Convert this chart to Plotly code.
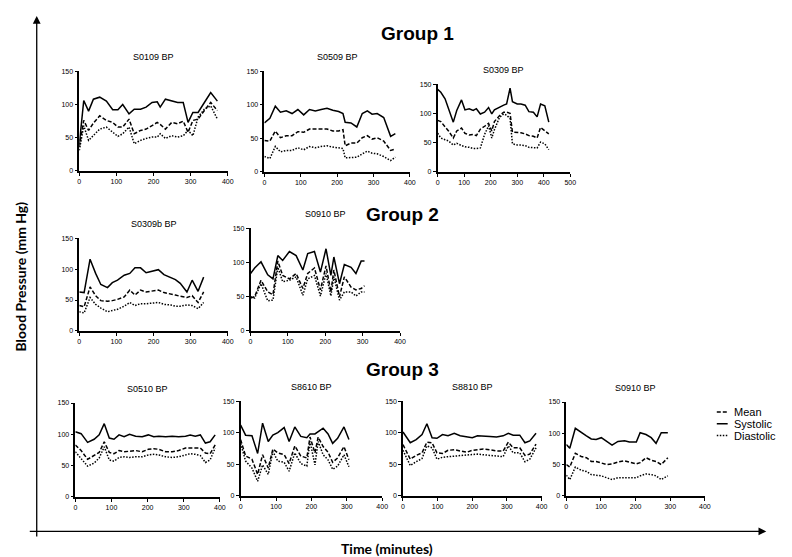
import plotly.graph_objects as go

W, H = 792, 557

# ---------------- data (minutes, mm Hg) ----------------
# Group 1
s0109_t = [0, 12, 25, 38, 55, 73, 90, 104, 117, 134, 148, 165, 180, 196, 210, 218, 232, 249, 265, 280, 293, 306, 320, 337, 354, 372]
s0109_sys = [40, 106, 90, 108, 111, 105, 92, 92, 100, 86, 93, 93, 96, 103, 104, 96, 108, 106, 103, 103, 73, 88, 88, 103, 118, 105]
s0109_mean = [36, 76, 61, 72, 83, 76, 73, 66, 66, 78, 56, 61, 63, 68, 73, 70, 63, 73, 71, 75, 58, 76, 78, 91, 103, 91]
s0109_dia = [31, 68, 46, 53, 63, 66, 58, 52, 56, 66, 41, 46, 49, 51, 51, 56, 49, 53, 51, 53, 61, 53, 81, 93, 98, 78]

s0509_t = [0, 15, 30, 44, 60, 76, 92, 108, 124, 140, 156, 172, 188, 204, 216, 222, 238, 254, 269, 283, 296, 310, 328, 347, 360]
s0509_sys = [73, 80, 98, 89, 91, 87, 93, 85, 93, 91, 93, 95, 92, 90, 87, 74, 73, 67, 87, 91, 86, 87, 81, 53, 57]
s0509_mean = [47, 46, 61, 51, 54, 54, 60, 59, 64, 64, 64, 64, 61, 61, 63, 39, 43, 43, 51, 54, 49, 51, 46, 32, 34]
s0509_dia = [23, 20, 38, 30, 32, 32, 36, 33, 38, 36, 38, 39, 37, 36, 35, 21, 21, 22, 27, 31, 28, 27, 23, 17, 22]

s0309_t = [0, 12, 28, 41, 59, 72, 90, 103, 119, 134, 146, 161, 177, 192, 204, 214, 233, 249, 260, 273, 282, 300, 314, 330, 344, 361, 375, 388, 404, 419]
s0309_sys = [141, 136, 125, 108, 85, 105, 123, 106, 108, 105, 108, 99, 102, 110, 99, 106, 111, 114, 116, 143, 120, 116, 116, 114, 103, 102, 94, 116, 113, 85]
s0309_mean = [88, 86, 77, 70, 58, 70, 75, 66, 63, 64, 62, 73, 78, 83, 70, 86, 96, 102, 102, 100, 68, 68, 67, 65, 62, 61, 58, 76, 70, 65]
s0309_dia = [66, 58, 55, 53, 46, 49, 45, 43, 42, 40, 40, 41, 64, 79, 58, 72, 93, 99, 97, 91, 48, 46, 46, 45, 42, 41, 41, 51, 48, 38]

# Group 2
s0309b_t = [0, 13, 29, 44, 58, 76, 89, 103, 121, 136, 150, 165, 180, 196, 213, 228, 246, 259, 272, 290, 304, 320, 335]
s0309b_sys = [63, 62, 116, 93, 75, 70, 78, 82, 90, 93, 102, 102, 94, 97, 99, 91, 86, 83, 77, 63, 82, 64, 87]
s0309b_mean = [41, 39, 71, 57, 49, 48, 49, 51, 55, 66, 58, 66, 63, 65, 66, 62, 59, 58, 56, 54, 57, 46, 63]
s0309b_dia = [31, 29, 54, 43, 37, 31, 33, 35, 40, 46, 41, 44, 44, 45, 46, 43, 42, 40, 40, 42, 41, 36, 46]

s0910a_t = [0, 11, 28, 46, 60, 73, 86, 104, 122, 140, 153, 171, 187, 202, 215, 223, 238, 251, 269, 282, 296, 305]
s0910a_sys = [84, 92, 101, 82, 76, 110, 103, 116, 110, 89, 113, 116, 86, 120, 81, 108, 69, 97, 93, 84, 102, 102]
s0910a_mean = [48, 50, 74, 57, 53, 102, 81, 76, 84, 62, 84, 92, 60, 95, 57, 89, 50, 79, 64, 60, 62, 66]
s0910a_dia = [50, 48, 69, 44, 45, 93, 72, 74, 79, 52, 76, 81, 51, 84, 51, 79, 45, 57, 57, 51, 57, 57]

# Group 3
s0510_t = [0, 16, 34, 52, 66, 80, 94, 107, 121, 135, 150, 167, 185, 202, 217, 231, 250, 268, 286, 305, 318, 332, 346, 360, 373, 387]
s0510_sys = [104, 101, 87, 92, 99, 117, 94, 92, 99, 96, 100, 97, 96, 99, 96, 97, 96, 97, 96, 97, 99, 97, 99, 86, 88, 99]
s0510_mean = [83, 74, 60, 66, 71, 88, 71, 69, 74, 72, 73, 74, 72, 76, 77, 76, 72, 72, 74, 78, 78, 78, 78, 70, 69, 83]
s0510_dia = [72, 62, 49, 54, 62, 80, 59, 57, 63, 64, 63, 64, 64, 67, 68, 67, 64, 63, 64, 67, 69, 68, 66, 55, 59, 78]

s8610_t = [0, 14, 32, 48, 62, 78, 91, 105, 123, 137, 153, 170, 187, 196, 210, 219, 233, 247, 260, 274, 292, 306]
s8610_sys = [112, 96, 95, 67, 115, 86, 96, 100, 108, 86, 109, 94, 92, 98, 98, 101, 107, 98, 83, 91, 109, 89]
s8610_mean = [89, 63, 58, 34, 65, 44, 74, 68, 65, 51, 79, 63, 60, 93, 68, 93, 78, 69, 53, 60, 78, 57]
s8610_dia = [83, 55, 44, 23, 49, 34, 70, 55, 53, 39, 68, 51, 47, 86, 49, 86, 65, 57, 42, 47, 65, 46]

s8810_t = [0, 21, 38, 55, 69, 84, 98, 114, 130, 148, 165, 184, 200, 215, 232, 251, 270, 289, 304, 318, 337, 352, 366, 384]
s8810_sys = [101, 84, 89, 97, 114, 92, 91, 97, 95, 99, 95, 94, 92, 95, 94, 94, 93, 95, 99, 96, 96, 84, 87, 99]
s8810_mean = [81, 58, 64, 68, 85, 84, 68, 67, 72, 73, 71, 69, 72, 73, 74, 73, 71, 71, 85, 76, 76, 64, 66, 82]
s8810_dia = [72, 48, 54, 59, 79, 76, 58, 61, 62, 63, 63, 64, 65, 66, 65, 64, 62, 62, 79, 68, 68, 54, 58, 76]

s0910b_t = [0, 10, 26, 43, 58, 72, 86, 101, 116, 132, 149, 168, 182, 202, 213, 230, 245, 259, 274, 293]
s0910b_sys = [82, 76, 108, 101, 96, 91, 90, 93, 87, 81, 87, 88, 86, 86, 101, 98, 93, 84, 101, 101]
s0910b_mean = [50, 46, 68, 63, 61, 55, 55, 53, 50, 51, 54, 56, 54, 51, 53, 61, 57, 55, 50, 61]
s0910b_dia = [33, 26, 46, 41, 39, 34, 33, 32, 29, 26, 29, 29, 29, 29, 32, 35, 34, 32, 26, 32]

panel_titles = ["S0109 BP", "S0509 BP", "S0309 BP", "S0309b BP", "S0910 BP",
                "S0510 BP", "S8610 BP", "S8810 BP", "S0910 BP"]
group_titles = ["Group 1", "Group 2", "Group 3"]
series_names = ["Mean", "Systolic", "Diastolic"]

data = [
    (s0109_t, s0109_mean, s0109_sys, s0109_dia),
    (s0509_t, s0509_mean, s0509_sys, s0509_dia),
    (s0309_t, s0309_mean, s0309_sys, s0309_dia),
    (s0309b_t, s0309b_mean, s0309b_sys, s0309b_dia),
    (s0910a_t, s0910a_mean, s0910a_sys, s0910a_dia),
    (s0510_t, s0510_mean, s0510_sys, s0510_dia),
    (s8610_t, s8610_mean, s8610_sys, s8610_dia),
    (s8810_t, s8810_mean, s8810_sys, s8810_dia),
    (s0910b_t, s0910b_mean, s0910b_sys, s0910b_dia),
]

# ---------------- layout (pixel boxes: x0, x1, y_top, y_bottom) ----------------
boxes = [
    (70, 220, 60, 161), (257, 404, 60, 162), (432, 566, 73, 162),
    (70, 220, 229, 323), (243, 394, 219, 323),
    (66, 212, 396, 491), (233, 376, 394, 490), (397, 537, 394, 490), (562, 702, 395, 490),
]
xmaxes = [400, 400, 500, 400, 400, 400, 400, 400, 400]

dash_styles = {"Mean": "4px,2px", "Systolic": "solid", "Diastolic": "1.5px,1.5px"}
TICKFONT = dict(family="Liberation Sans, Arial", size=7, color="black")

fig = go.Figure()
annotations = []

for i, ((t, mean, sys_, dia), (x0, x1, yt, yb), xmax, title) in enumerate(
        zip(data, boxes, xmaxes, panel_titles), start=1):
    xa = "x" if i == 1 else f"x{i}"
    ya = "y" if i == 1 else f"y{i}"
    for name, vals in zip(series_names, (mean, sys_, dia)):
        fig.add_trace(go.Scatter(
            x=t, y=vals, mode="lines", name=name, showlegend=False,
            line=dict(color="black", width=1.5, dash=dash_styles[name]),
            xaxis=xa, yaxis=ya, hoverinfo="skip"))
    sx = "xaxis" if i == 1 else f"xaxis{i}"
    sy = "yaxis" if i == 1 else f"yaxis{i}"
    fig.layout[sx] = dict(
        domain=[x0 / W, x1 / W], range=[0, xmax], anchor=ya,
        tickvals=list(range(0, xmax + 1, 100)), showline=True, linecolor="black",
        linewidth=1.5, ticks="outside", ticklen=3, tickwidth=1, tickcolor="black",
        tickfont=TICKFONT, showgrid=False, zeroline=False)
    fig.layout[sy] = dict(
        domain=[1 - yb / H, 1 - yt / H], range=[0, 150], anchor=xa,
        tickvals=[0, 50, 100, 150], showline=True, linecolor="black",
        linewidth=1.5, ticks="outside", ticklen=3, tickwidth=1, tickcolor="black",
        tickfont=TICKFONT, showgrid=False, zeroline=False)
    annotations.append(dict(
        text=title, x=(x0 + x1) / 2 / W, y=1 - (yt - 14) / H, xref="paper", yref="paper",
        showarrow=False, font=dict(family="Liberation Sans, Arial", size=9, color="black"),
        xanchor="center", yanchor="middle"))

# group titles
for txt, (gx, gy) in zip(group_titles, [(412, 22), (397, 205), (397, 362)]):
    annotations.append(dict(
        text=f"<b>{txt}</b>", x=gx / W, y=1 - gy / H, xref="paper", yref="paper",
        showarrow=False, font=dict(family="Liberation Sans, Arial", size=19, color="black"),
        xanchor="center", yanchor="middle"))

# big axis arrows
annotations.append(dict(x=27 / W, y=1 - 4 / H, xref="paper", yref="paper", ax=0, ay=522,
                        axref="pixel", ayref="pixel", text="", showarrow=True,
                        arrowhead=2, arrowsize=1.2, arrowwidth=1.3, arrowcolor="black"))
annotations.append(dict(x=764 / W, y=1 - 526 / H, xref="paper", yref="paper", ax=-738, ay=0,
                        text="", showarrow=True,
                        arrowhead=2, arrowsize=1.2, arrowwidth=1.3, arrowcolor="black"))
annotations.append(dict(text="<b>Blood Pressure (mm Hg)</b>", x=11 / W, y=1 - 268 / H,
                        xref="paper", yref="paper", showarrow=False, textangle=-90,
                        font=dict(family="Lato", size=14, color="black"),
                        xanchor="center", yanchor="middle"))
annotations.append(dict(text="<b>Time (minutes)</b>", x=381 / W, y=1 - 543 / H,
                        xref="paper", yref="paper", showarrow=False,
                        font=dict(family="Lato", size=14, color="black"),
                        xanchor="center", yanchor="middle"))

# manual legend
shapes = []
for k, name in enumerate(series_names):
    ly = 405 + k * 12
    shapes.append(dict(type="line", xref="paper", yref="paper",
                       x0=714 / W, x1=725 / W, y0=1 - ly / H, y1=1 - ly / H,
                       line=dict(color="black", width=1.5, dash=dash_styles[name])))
    annotations.append(dict(text=name, x=729 / W, y=1 - ly / H, xref="paper", yref="paper",
                            showarrow=False, xanchor="left", yanchor="middle",
                            font=dict(family="Liberation Sans, Arial", size=11, color="black")))

fig.update_layout(
    width=W, height=H, margin=dict(l=0, r=0, t=0, b=0),
    paper_bgcolor="white", plot_bgcolor="white",
    annotations=annotations, shapes=shapes, showlegend=False)

fig.write_html("out.html")
